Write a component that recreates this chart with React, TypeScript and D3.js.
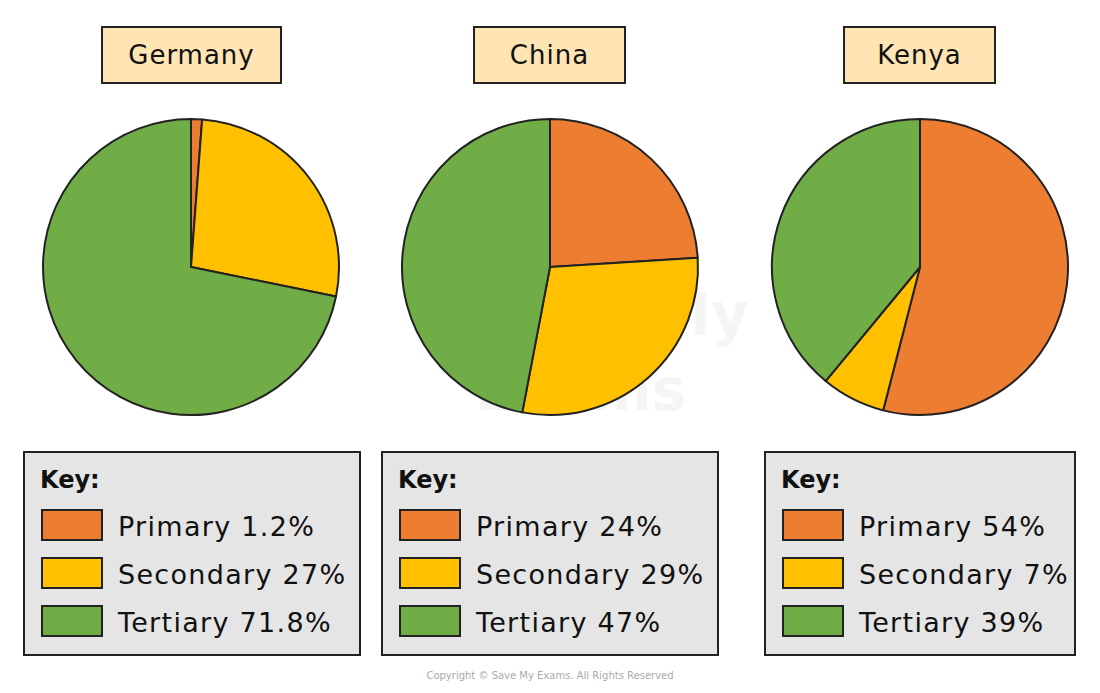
import React from "react";
import * as d3 from "d3";

// data
const countries = ["Germany", "China", "Kenya"];
const sectors = ["Primary", "Secondary", "Tertiary"];
const germanyValues = [1.2, 27, 71.8];
const chinaValues = [24, 29, 47];
const kenyaValues = [54, 7, 39];
const valueLabels = [
  ["1.2%", "27%", "71.8%"],
  ["24%", "29%", "47%"],
  ["54%", "7%", "39%"],
];

const W = 1100;
const H = 693;
const font = "'DejaVu Sans', 'Noto Sans', sans-serif";
const stroke = "#222";

const colour = d3.scaleOrdinal<string, string>()
  .domain(sectors)
  .range(["#ED7D31", "#FFC000", "#70AD47"]);

// panel layout: pie centres and box positions
const pieCentres = [191, 550, 920];
const titleBoxes = [
  { x: 102, w: 179 },
  { x: 474, w: 151 },
  { x: 844, w: 151 },
];
const keyBoxes = [
  { x: 24, w: 336 },
  { x: 382, w: 336 },
  { x: 765, w: 310 },
];

const pie = d3.pie<number>().sort(null).value((d) => d);
const arc = d3.arc<d3.PieArcDatum<number>>().innerRadius(0).outerRadius(148);

const App = () => {
  const all = [germanyValues, chinaValues, kenyaValues];
  return (
    <svg width={W} height={H} style={{ display: "block", position: "absolute", left: 0, top: 0 }}>
      <rect width={W} height={H} fill="#fff" />
      {/* faint watermark */}
      <g opacity={0.05} fontFamily={font} fontWeight="bold" fill="#555">
        <text x={475} y={335} fontSize={58}>Save My</text>
        <text x={475} y={410} fontSize={58}>Exams</text>
      </g>
      {countries.map((c, i) => {
        const cx = pieCentres[i];
        const tb = titleBoxes[i];
        const kb = keyBoxes[i];
        return (
          <g key={c}>
            <rect x={tb.x} y={27} width={tb.w} height={56} fill="#FFE5B4" stroke={stroke} strokeWidth={2} />
            <text x={tb.x + tb.w / 2} y={64} textAnchor="middle" fontFamily={font} fontSize={26} letterSpacing={1} fill="#111">
              {c}
            </text>
            <g transform={`translate(${cx},267)`}>
              {pie(all[i]).map((a, j) => (
                <path key={j} d={arc(a) ?? ""} fill={colour(sectors[j])} stroke={stroke} strokeWidth={2} strokeLinejoin="round" />
              ))}
            </g>
            <rect x={kb.x} y={452} width={kb.w} height={203} fill="#E5E5E5" stroke={stroke} strokeWidth={2} />
            <text x={kb.x + 16} y={488} fontFamily={font} fontSize={24} fontWeight="bold" fill="#111">
              Key:
            </text>
            {sectors.map((s, j) => (
              <g key={s}>
                <rect x={kb.x + 18} y={510 + j * 48} width={60} height={30} fill={colour(s)} stroke={stroke} strokeWidth={2} />
                <text x={kb.x + 94} y={536 + j * 48} fontFamily={font} fontSize={27} letterSpacing={1.3} fill="#111">
                  {`${s} ${valueLabels[i][j]}`}
                </text>
              </g>
            ))}
          </g>
        );
      })}
      <text x={550} y={679} textAnchor="middle" fontFamily={font} fontSize={10} fill="#aaa">
        Copyright © Save My Exams. All Rights Reserved
      </text>
    </svg>
  );
};

export default App;
